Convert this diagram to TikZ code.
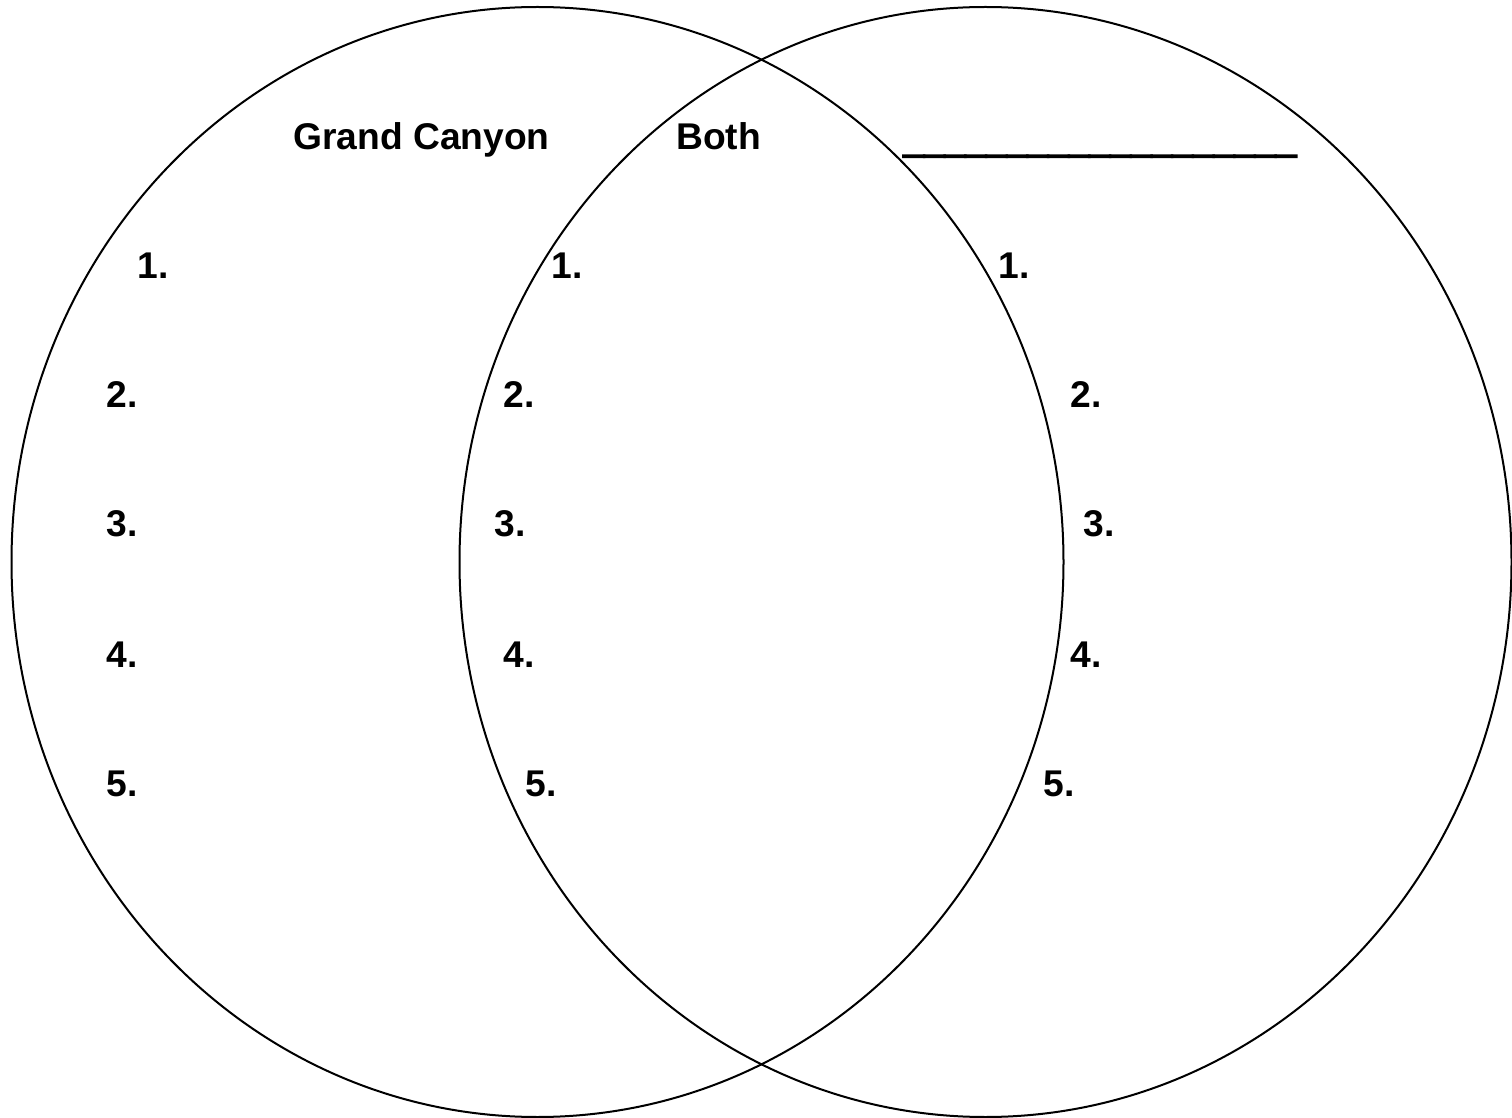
\documentclass[tikz,border=0pt]{standalone}
\usepackage{fontspec}
\setmainfont{Liberation Sans}
\newfontfamily\ulfont[FakeBold=4]{Liberation Sans}
\usetikzlibrary{shapes.geometric}
\begin{document}
\begin{tikzpicture}[x=0.5pt,y=-0.5pt,
  ring/.style={draw=black,line width=1pt,ellipse,minimum width=526pt,minimum height=555pt,inner sep=0pt},
  lbl/.style={anchor=base west,inner sep=0pt,font=\fontsize{18.6}{20}\selectfont\bfseries}]
\useasboundingbox (0,0) rectangle (1512,1118);
\node[ring] (L) at (537.5,562) {};
\node[ring] (R) at (985.5,562) {};
% titles
\node[lbl] (tL) at (293,150) {Grand Canyon};
\node[lbl] (tM) at (676,150) {Both};
\node[lbl,font=\fontsize{18.6}{20}\selectfont\ulfont] (tR) at (903,150) {\_\_\_\_\_\_\_\_\_\_\_\_\_\_\_\_\_\_\_};
% left column
\node[lbl] (l1) at (137,279) {1.};
\node[lbl] (l2) at (106,408) {2.};
\node[lbl] (l3) at (106,537) {3.};
\node[lbl] (l4) at (106,667) {4.};
\node[lbl] (l5) at (106,796) {5.};
% middle column
\node[lbl] (m1) at (551,279) {1.};
\node[lbl] (m2) at (503,408) {2.};
\node[lbl] (m3) at (494,537) {3.};
\node[lbl] (m4) at (503,667) {4.};
\node[lbl] (m5) at (525,796) {5.};
% right column
\node[lbl] (r1) at (998,279) {1.};
\node[lbl] (r2) at (1070,408) {2.};
\node[lbl] (r3) at (1083,537) {3.};
\node[lbl] (r4) at (1070,667) {4.};
\node[lbl] (r5) at (1043,796) {5.};
\end{tikzpicture}
\end{document}
